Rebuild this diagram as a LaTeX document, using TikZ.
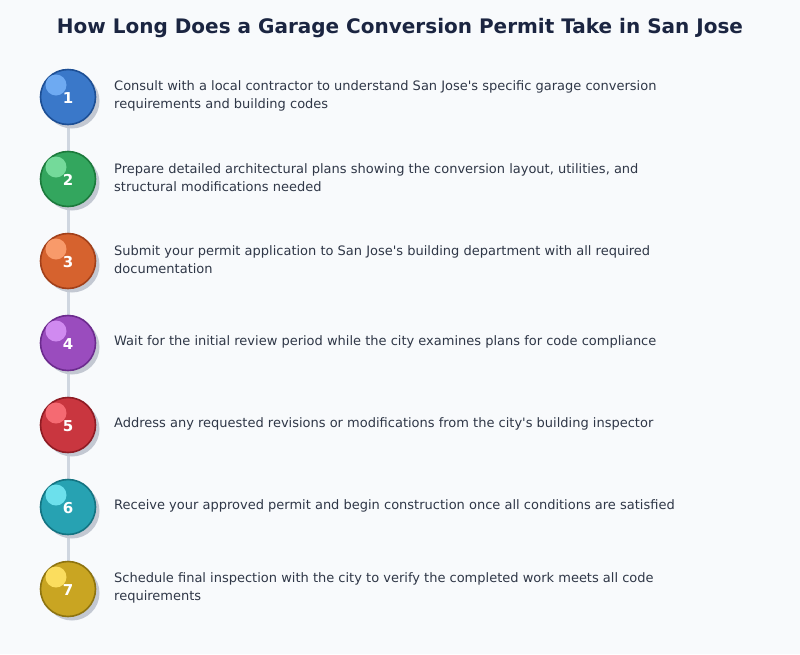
\documentclass[tikz,border=0pt]{standalone}
\usepackage{fontspec}
\setmainfont{DejaVu Sans}[Ligatures=TeXOff]
\usetikzlibrary{calc}
\definecolor{bg}{HTML}{F8FAFC}
\definecolor{titlec}{HTML}{1B2541}
\definecolor{textc}{HTML}{2F3747}
\definecolor{linec}{HTML}{CFD6E0}
\definecolor{shadowc}{HTML}{C3C8D2}
\definecolor{f1}{HTML}{3A78C9}\definecolor{b1}{HTML}{1D4F95}\definecolor{h1}{HTML}{6EAAF2}
\definecolor{f2}{HTML}{33A65E}\definecolor{b2}{HTML}{1C7A3C}\definecolor{h2}{HTML}{74DA9A}
\definecolor{f3}{HTML}{D6622E}\definecolor{b3}{HTML}{A2401A}\definecolor{h3}{HTML}{F89A6A}
\definecolor{f4}{HTML}{9A4CBE}\definecolor{b4}{HTML}{6C2B8E}\definecolor{h4}{HTML}{D08AF0}
\definecolor{f5}{HTML}{C9363F}\definecolor{b5}{HTML}{8E1C24}\definecolor{h5}{HTML}{F56A72}
\definecolor{f6}{HTML}{27A2B2}\definecolor{b6}{HTML}{147482}\definecolor{h6}{HTML}{6CE0EC}
\definecolor{f7}{HTML}{C9A522}\definecolor{b7}{HTML}{8E7410}\definecolor{h7}{HTML}{FBDD5E}
\tikzset{
  stepcirc/.style={circle, minimum size=55pt, inner sep=0pt, line width=1.6pt},
  shadowcirc/.style={circle, minimum size=55pt, inner sep=0pt, fill=shadowc},
  hilite/.style={circle, minimum size=21pt, inner sep=0pt},
  numtext/.style={text=white, font=\bfseries\fontsize{15}{17}\selectfont},
  steptext/.style={anchor=west, align=left, text=textc, font=\fontsize{13}{18}\selectfont, inner sep=0pt},
  connector/.style={draw=linec, line width=3pt}
}
\begin{document}
\begin{tikzpicture}[x=1pt,y=-1pt]
\fill[bg] (0,0) rectangle (800,654);
\useasboundingbox (0,0) rectangle (800,654);
\node[text=titlec, font=\bfseries\fontsize{20}{24}\selectfont] (title) at (400,28) {How Long Does a Garage Conversion Permit Take in San Jose};
% connectors
\foreach \i [evaluate=\i as \y using 97+82*(\i-1)] in {1,...,7} {
  \coordinate (c\i) at (68,\y);
}
\foreach \i/\j in {1/2,2/3,3/4,4/5,5/6,6/7} {
  \draw[connector] (c\i) -- (c\j);
}
\foreach \i/\t in {
 1/{Consult with a local contractor to understand San Jose's specific garage conversion\\requirements and building codes},
 2/{Prepare detailed architectural plans showing the conversion layout, utilities, and\\structural modifications needed},
 3/{Submit your permit application to San Jose's building department with all required\\documentation},
 4/{Wait for the initial review period while the city examines plans for code compliance},
 5/{Address any requested revisions or modifications from the city's building inspector},
 6/{Receive your approved permit and begin construction once all conditions are satisfied},
 7/{Schedule final inspection with the city to verify the completed work meets all code\\requirements}} {
  \node[shadowcirc] (s\i) at ($(c\i)+(4,4)$) {};
  \node[stepcirc, fill=f\i, draw=b\i] (n\i) at (c\i) {};
  \node[hilite, fill=h\i] (h\i) at ($(c\i)+(-12,-12)$) {};
  \node[numtext] (k\i) at ($(c\i)+(0,1)$) {\i};
  \node[steptext] (t\i) at (114,{96+82*(\i-1)}) {\t};
}
\end{tikzpicture}
\end{document}
